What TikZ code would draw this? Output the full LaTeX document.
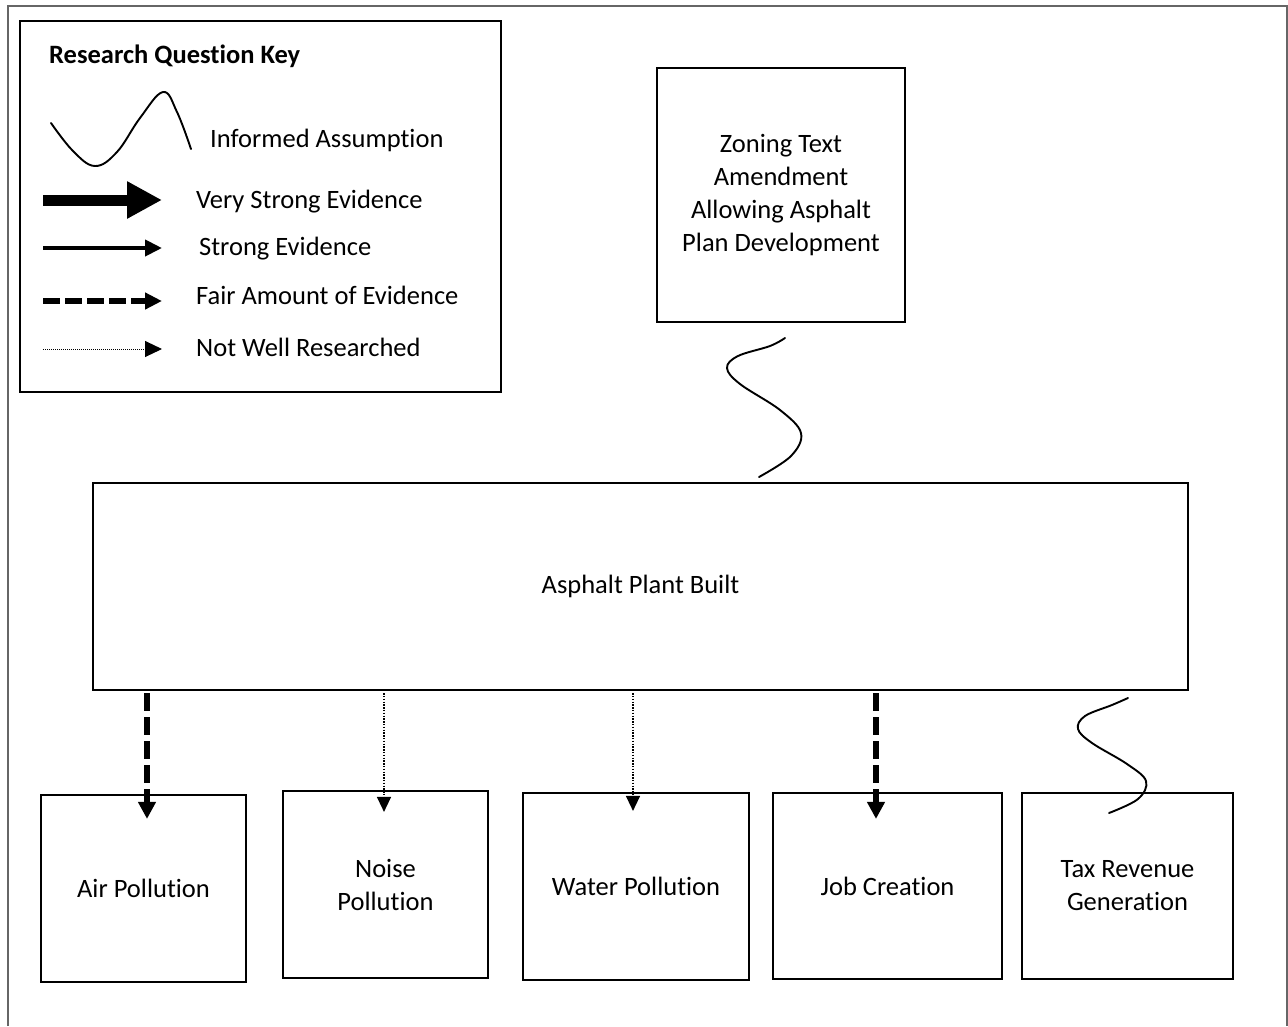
\documentclass[tikz,border=0pt]{standalone}
\usepackage{fontspec}
\setmainfont{Carlito}[RawFeature=-liga]
\usetikzlibrary{arrows.meta,calc}
\begin{document}
\begin{tikzpicture}[x=1pt,y=-1pt,
  txt/.style={font=\fontsize{26.5}{33}\selectfont},
  box/.style={draw, line width=2.2pt, rectangle, inner sep=0pt, align=center, txt},
  keytext/.style={anchor=west, inner sep=0pt, txt},
  fair/.style={line width=6pt, dash pattern=on 18pt off 6pt, -{Triangle[width=17pt,length=17pt]}},
  weak/.style={line width=1.4pt, dash pattern=on 1.4pt off 1.4pt, -{Triangle[width=14pt,length=15pt]}},
  wave/.style={line width=1.9pt, line cap=round},
]
\useasboundingbox (0,0) rectangle (1288,1026);
\fill[white] (0,0) rectangle (1288,1026);
\draw[line width=1.5pt, black!60] (8,1026) -- (8,6) -- (1287,6) -- (1287,1026);

% key
\node[box, minimum width=481pt, minimum height=371pt] (key) at (260.5,206.5) {};
\node[keytext, font=\fontsize{26.5}{33}\selectfont\bfseries] (keytitle) at (49,56) {Research Question Key};
\draw[wave] plot[smooth, tension=0.65] coordinates {(51,123) (73,151) (95,166) (117,152) (140,118) (163,92) (177,112) (191,149)};
\node[keytext] (kt1) at (210,140) {Informed Assumption};

\coordinate (k1s) at (43,200); \coordinate (k1e) at (162,200);
\draw[line width=11pt, -{Triangle[width=35pt,length=35pt]}] (k1s) -- (k1e);
\node[keytext] (kt2) at (196,202) {Very Strong Evidence};

\coordinate (k2s) at (43,248); \coordinate (k2e) at (162,248);
\draw[line width=4pt, -{Triangle[width=16pt,length=17pt]}] (k2s) -- (k2e);
\node[keytext] (kt3) at (199,249) {Strong Evidence};

\coordinate (k3s) at (43,301); \coordinate (k3e) at (162,301);
\draw[line width=6pt, dash pattern=on 17pt off 5pt, -{Triangle[width=16pt,length=17pt]}] (k3s) -- (k3e);
\node[keytext] (kt4) at (196,295) {Fair Amount of Evidence};

\coordinate (k4s) at (43,349); \coordinate (k4e) at (162,349);
\draw[line width=1pt, dash pattern=on 1pt off 1pt, -{Triangle[width=16pt,length=17pt]}] (k4s) -- (k4e);
\node[keytext] (kt5) at (196,347) {Not Well Researched};

% main boxes
\node[box, minimum width=248pt, minimum height=254pt] (zoning) at (781,195) {Zoning Text\\Amendment\\Allowing Asphalt\\Plan Development};
\node[box, minimum width=1095pt, minimum height=207pt] (asphalt) at (640.5,586.5) {Asphalt Plant Built};

\node[box, minimum width=205pt, minimum height=187pt] (air) at (143.5,888.5) {Air Pollution};
\node[box, minimum width=205pt, minimum height=187pt] (noise) at (385.5,884.5) {Noise\\Pollution};
\node[box, minimum width=226pt, minimum height=187pt] (water) at (636,886.5) {Water Pollution};
\node[box, minimum width=229pt, minimum height=186pt] (job) at (887.5,886) {Job Creation};
\node[box, minimum width=211pt, minimum height=186pt] (tax) at (1127.5,886) {Tax Revenue\\Generation};

% squiggles (informed assumption)
\draw[wave] plot[smooth, tension=0.6] coordinates {(785,338) (770,346) (738,356) (727,368) (740,384) (780,410) (801,433) (791,456) (759,477)};
\draw[wave] plot[smooth, tension=0.6] coordinates {(1128,698) (1112,705) (1085,716) (1078,729) (1092,743) (1127,764) (1146,781) (1138,799) (1109,813)};

% arrows
\draw[fair] ([xshift=3.5pt,yshift=-2pt]asphalt.south -| air.north) -- ([xshift=3.5pt,yshift=-25pt]air.north);
\draw[weak] ([xshift=-1.5pt,yshift=-2pt]asphalt.south -| noise.north) -- ([xshift=-1.5pt,yshift=-22pt]noise.north);
\draw[weak] ([xshift=-3pt,yshift=-2pt]asphalt.south -| water.north) -- ([xshift=-3pt,yshift=-19pt]water.north);
\draw[fair] ([xshift=-11.5pt,yshift=-2pt]asphalt.south -| job.north) -- ([xshift=-11.5pt,yshift=-27pt]job.north);
\end{tikzpicture}
\end{document}
